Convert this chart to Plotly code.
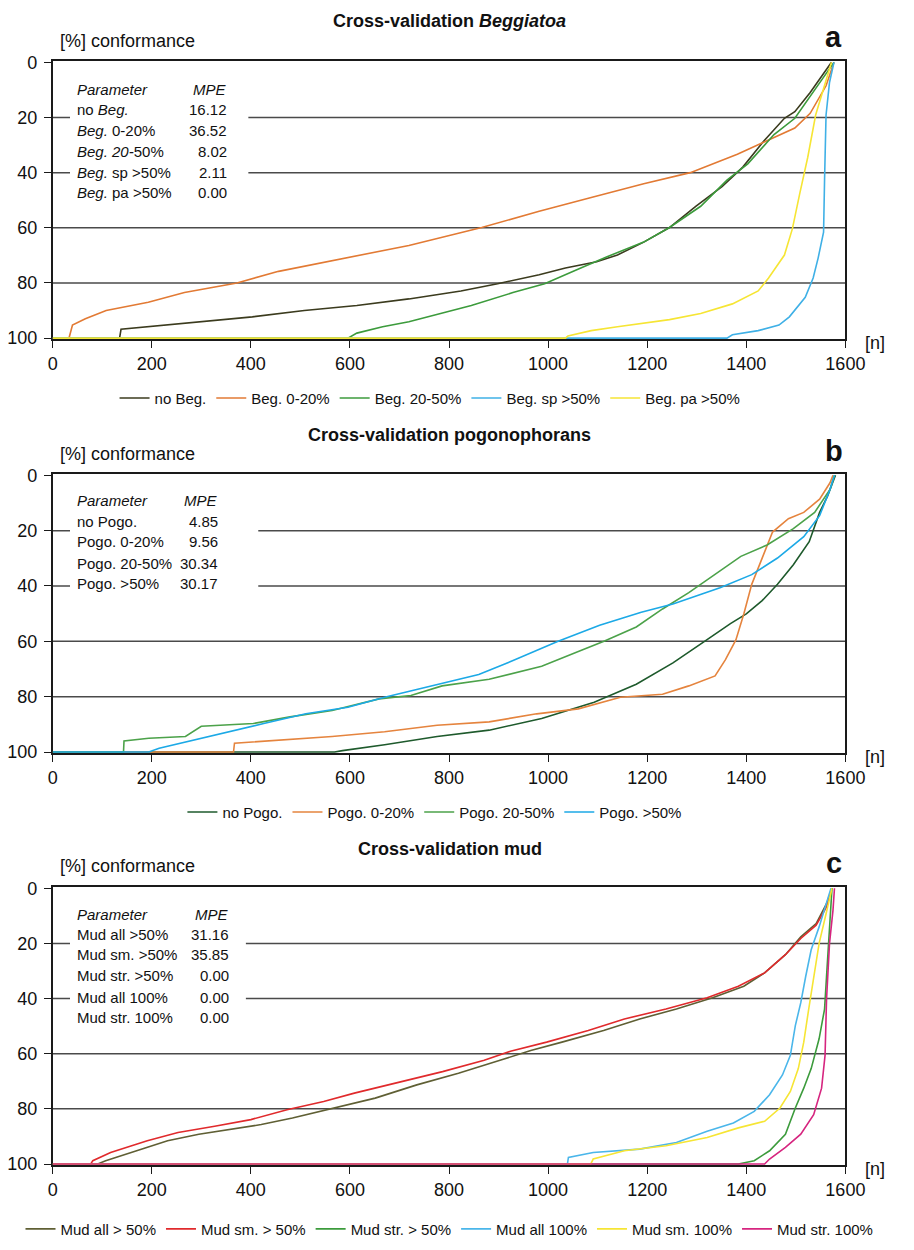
import plotly.graph_objects as go

# ---------------- Panel a: Beggiatoa ----------------
a_names = ["no Beg.", "Beg. 0-20%", "Beg. 20-50%", "Beg. sp >50%", "Beg. pa >50%"]
a_colors = ["#3b3b1e", "#e27a34", "#3c9b3c", "#3fb0e6", "#f6e534"]
a_noBeg_n = [0, 135, 138, 193, 298, 403, 508, 614, 719, 824, 898, 982, 1035, 1098, 1140, 1193, 1245, 1298, 1351, 1393, 1435, 1477, 1498, 1529, 1572]
a_noBeg_y = [100, 100, 96.8, 95.9, 94.1, 92.3, 90, 88.2, 85.8, 82.9, 80.3, 77, 74.6, 72.3, 69.9, 65.2, 59.9, 52.2, 45.1, 38, 28.6, 20.3, 17.9, 10.9, 0]
a_b020_n = [0, 33, 40, 66, 108, 193, 266, 372, 456, 540, 603, 719, 866, 982, 1087, 1193, 1287, 1382, 1435, 1498, 1529, 1561, 1577]
a_b020_y = [100, 100, 95.3, 93, 90, 87, 83.5, 80, 75.8, 72.8, 70.5, 66.4, 59.9, 54, 49, 44, 40, 33.3, 29, 23.8, 18.5, 8.5, 0]
a_b2050_n = [0, 596, 614, 666, 719, 782, 845, 929, 993, 1066, 1119, 1193, 1245, 1308, 1361, 1403, 1456, 1498, 1540, 1577]
a_b2050_y = [100, 100, 98.2, 95.9, 94.1, 91.1, 88.2, 83.5, 80.3, 74.6, 70.5, 65.2, 59.9, 52.2, 42.7, 36.8, 26.2, 20.3, 9.7, 0]
a_sp_n = [0, 1361, 1372, 1424, 1466, 1487, 1519, 1535, 1545, 1556, 1558, 1561, 1568, 1577]
a_sp_y = [100, 100, 98.8, 97.3, 95.3, 92.3, 85.2, 78.2, 71, 61.6, 42.7, 19.1, 7.3, 0]
a_pa_n = [0, 1035, 1040, 1087, 1140, 1245, 1308, 1372, 1424, 1445, 1477, 1493, 1508, 1524, 1540, 1556, 1572]
a_pa_y = [100, 100, 99.2, 97.3, 95.9, 93.3, 91.1, 87.6, 82.9, 78.2, 69.9, 60.4, 47.5, 34.5, 19.1, 9.7, 0]
a_table_params = ["no <i>Beg.</i>", "<i>Beg.</i> 0-20%", "<i>Beg. 20-</i>50%", "<i>Beg.</i> sp >50%", "<i>Beg.</i> pa >50%"]
a_table_mpe = ["16.12", "36.52", "8.02", "2.11", "0.00"]

# ---------------- Panel b: pogonophorans ----------------
b_names = ["no Pogo.", "Pogo. 0-20%", "Pogo. 20-50%", "Pogo. >50%"]
b_colors = ["#1e5a2c", "#e5843e", "#4ca24a", "#1ca9e6"]
b_no_n = [0, 569, 585, 670, 776, 881, 987, 1093, 1178, 1252, 1315, 1368, 1400, 1432, 1463, 1495, 1527, 1548, 1564, 1580]
b_no_y = [100, 100, 99.5, 97.4, 94.4, 92.1, 87.9, 82, 75.5, 67.8, 60.1, 53.6, 50.1, 45.3, 39.4, 32.3, 24, 13.4, 7.5, 0]
b_020_n = [0, 365, 367, 458, 564, 670, 776, 881, 977, 1061, 1146, 1231, 1284, 1337, 1358, 1379, 1395, 1411, 1432, 1453, 1485, 1516, 1548, 1569, 1575]
b_020_y = [100, 100, 96.8, 95.6, 94.4, 92.7, 90.3, 89.1, 86.2, 84.4, 80.2, 79.1, 76.1, 72.5, 66.6, 59.5, 50.1, 39.4, 29.9, 20.5, 15.7, 13.4, 8.6, 2.7, 0]
b_2050_n = [0, 143, 144, 194, 268, 300, 405, 479, 564, 659, 723, 786, 881, 987, 1061, 1114, 1178, 1231, 1284, 1337, 1389, 1442, 1495, 1538, 1569, 1578]
b_2050_y = [100, 100, 96, 95, 94.4, 90.7, 89.7, 87.3, 85, 80.8, 79.6, 76.1, 73.7, 69, 63.7, 59.9, 54.8, 48.3, 42.4, 35.9, 29.3, 25.2, 19.3, 13.4, 5.1, 0]
b_50_n = [0, 194, 215, 257, 331, 426, 511, 596, 670, 765, 860, 934, 1019, 1104, 1188, 1252, 1347, 1411, 1463, 1516, 1548, 1569, 1578]
b_50_y = [100, 100, 98.6, 96.8, 93.8, 89.7, 86.2, 83.8, 80.2, 76.1, 72, 66.6, 60.1, 54.2, 49.5, 46.5, 40.6, 35.9, 29.9, 22.2, 14.6, 5.1, 0]
b_table_params = ["no Pogo.", "Pogo. 0-20%", "Pogo. 20-50%", "Pogo. >50%"]
b_table_mpe = ["4.85", "9.56", "30.34", "30.17"]

# ---------------- Panel c: mud ----------------
c_names = ["Mud all > 50%", "Mud sm. > 50%", "Mud str. > 50%", "Mud all 100%", "Mud sm. 100%", "Mud str. 100%"]
c_colors = ["#5f5f34", "#e02a2c", "#3c9b3c", "#4ab6ea", "#f6e534", "#d6257f"]
c_all50_n = [0, 91, 107, 170, 232, 295, 358, 421, 484, 568, 651, 735, 819, 903, 965, 1028, 1112, 1185, 1259, 1332, 1395, 1437, 1479, 1510, 1541, 1562, 1573]
c_all50_y = [100, 100, 98.8, 95.2, 91.6, 89.2, 87.5, 85.7, 83.3, 79.7, 76.1, 71.3, 67.1, 62.4, 58.8, 55.8, 51.6, 47.4, 43.8, 39.7, 35.5, 30.7, 24.1, 17.6, 12.8, 5.6, 0]
c_sm50_n = [0, 77, 81, 117, 191, 253, 327, 400, 473, 547, 609, 693, 787, 871, 924, 997, 1081, 1154, 1238, 1321, 1384, 1437, 1479, 1510, 1541, 1562, 1573]
c_sm50_y = [100, 100, 98.8, 95.8, 91.6, 88.6, 86.3, 83.9, 80.3, 77.3, 74.3, 70.7, 66.5, 62.4, 59.1, 55.8, 51.6, 47.4, 43.8, 39.7, 35.5, 30.7, 24.1, 18.2, 13.4, 6.8, 0]
c_str50_n = [0, 1384, 1416, 1447, 1479, 1499, 1516, 1531, 1547, 1558, 1562, 1568, 1573]
c_str50_y = [100, 100, 98.8, 95.2, 89.2, 79.7, 72.5, 65.4, 54.6, 43.8, 31.9, 14, 0]
c_all100_n = [0, 1039, 1041, 1091, 1185, 1259, 1321, 1374, 1416, 1447, 1473, 1489, 1499, 1510, 1520, 1531, 1547, 1562, 1571]
c_all100_y = [100, 100, 97.6, 95.8, 94.6, 92.2, 88.1, 85.1, 80.9, 74.9, 67.7, 60.6, 49.8, 41.5, 31.9, 22.3, 14, 5.6, 0]
c_sm100_n = [0, 1086, 1091, 1154, 1238, 1321, 1384, 1437, 1468, 1489, 1505, 1516, 1526, 1537, 1547, 1558, 1573]
c_sm100_y = [100, 100, 98.2, 95.2, 93.4, 90.4, 86.9, 84.5, 79.7, 73.7, 65.4, 55.8, 43.8, 31.9, 20, 11.6, 0]
c_str100_n = [0, 1437, 1447, 1479, 1510, 1536, 1552, 1559, 1562, 1568, 1575, 1578]
c_str100_y = [100, 100, 98.2, 94, 89.2, 82.1, 72.5, 60.6, 40.3, 20, 8, 0]
c_table_params = ["Mud all >50%", "Mud sm. >50%", "Mud str. >50%", "Mud all 100%", "Mud str. 100%"]
c_table_mpe = ["31.16", "35.85", "0.00", "0.00", "0.00"]

x_ticks = [0, 200, 400, 600, 800, 1000, 1200, 1400, 1600]
y_ticks = [0, 20, 40, 60, 80, 100]
grid_vals = [20, 40, 60, 80]

W, H = 914, 1250
FONT = "Liberation Sans, Arial, sans-serif"
NARROW = "Liberation Sans Narrow, Liberation Sans, Arial, sans-serif"

panels = [
    dict(key="", top=53, bot=335, names=a_names, colors=a_colors,
         series=[(a_noBeg_n, a_noBeg_y), (a_b020_n, a_b020_y), (a_b2050_n, a_b2050_y), (a_sp_n, a_sp_y), (a_pa_n, a_pa_y)],
         title="Cross-validation <i>Beggiatoa</i>", title_y=12, letter="a", letter_y=28,
         params=a_table_params, mpe=a_table_mpe, rows=[9.9, 17.0, 24.8, 32.3, 40.1, 47.2],
         mpe_right=355, box=(35, 395, 4, 51), legend_y=395, legend_x=437),
    dict(key="2", top=472, bot=755, names=b_names, colors=b_colors,
         series=[(b_no_n, b_no_y), (b_020_n, b_020_y), (b_2050_n, b_2050_y), (b_50_n, b_50_y)],
         title="Cross-validation pogonophorans", title_y=432, letter="b", letter_y=448,
         params=b_table_params, mpe=b_table_mpe, rows=[9.1, 16.6, 24.0, 31.7, 39.1],
         mpe_right=338, box=(35, 415, 4, 44), legend_y=815, legend_x=442),
    dict(key="3", top=891, bot=1173, names=c_names, colors=c_colors,
         series=[(c_all50_n, c_all50_y), (c_sm50_n, c_sm50_y), (c_str50_n, c_str50_y), (c_all100_n, c_all100_y), (c_sm100_n, c_sm100_y), (c_str100_n, c_str100_y)],
         title="Cross-validation mud", title_y=852, letter="c", letter_y=866,
         params=c_table_params, mpe=c_table_mpe, rows=[9.5, 16.7, 24.1, 31.6, 39.6, 47.0],
         mpe_right=360, box=(35, 390, 4, 51), legend_y=1238, legend_x=457),
]

fig = go.Figure()
shapes = []
annotations = []
x0p, x1p = 49, 864

for p in panels:
    k = p["key"]
    xa = "x" + k
    ya = "y" + k
    leg = "legend" + k
    for (nn, yy), name, col in zip(p["series"], p["names"], p["colors"]):
        fig.add_trace(go.Scatter(x=nn, y=yy, mode="lines", name=name,
                                 line=dict(color=col, width=1.6),
                                 xaxis=xa, yaxis=ya, legend=leg, hoverinfo="skip"))
    dom_y = [1 - p["bot"] / H, 1 - p["top"] / H]
    axkw = dict(showline=True, linecolor="#1a1a1a", linewidth=1.6, mirror=True,
                ticks="outside", ticklen=7, tickwidth=1.4, tickcolor="#1a1a1a",
                showgrid=False, zeroline=False, layer="below traces",
                tickfont=dict(family=FONT, size=18, color="#111"))
    fig.update_layout(**{
        ("xaxis" + k): dict(domain=[x0p / W, x1p / W], range=[0, 1600], tickvals=x_ticks,
                            anchor=ya, **axkw),
        ("yaxis" + k): dict(domain=dom_y, range=[100.4, -0.4], tickvals=y_ticks,
                            anchor=xa, ticklabelstandoff=3, **axkw),
    })
    for g in grid_vals:
        shapes.append(dict(type="line", xref=xa, yref=ya, x0=0, x1=1600, y0=g, y1=g,
                           line=dict(color="#4a4a4a", width=1.5), layer="below"))
    bx0, bx1, by0, by1 = p["box"]
    shapes.append(dict(type="rect", xref=xa, yref=ya, x0=bx0, x1=bx1, y0=by0, y1=by1,
                       fillcolor="white", line=dict(width=0), layer="below"))
    tfont = dict(family=FONT, size=15, color="#111")
    annotations.append(dict(xref=xa, yref=ya, x=46, y=p["rows"][0], text="<i>Parameter</i>",
                            xanchor="left", yanchor="middle", showarrow=False, font=tfont))
    annotations.append(dict(xref=xa, yref=ya, x=p["mpe_right"], y=p["rows"][0], text="<i>MPE</i>",
                            xanchor="right", yanchor="middle", showarrow=False, font=tfont))
    for r, t, v in zip(p["rows"][1:], p["params"], p["mpe"]):
        annotations.append(dict(xref=xa, yref=ya, x=46, y=r, text=t, xanchor="left",
                                yanchor="middle", showarrow=False, font=tfont))
        annotations.append(dict(xref=xa, yref=ya, x=p["mpe_right"], y=r, text=v, xanchor="right",
                                yanchor="middle", showarrow=False, font=tfont))
    annotations.append(dict(xref="paper", yref="paper", x=457 / W, y=1 - p["title_y"] / H,
                            text="<b>" + p["title"] + "</b>", xanchor="center", yanchor="middle",
                            showarrow=False, font=dict(family=FONT, size=18, color="#111")))
    annotations.append(dict(xref="paper", yref="paper", x=852 / W, y=1 - p["letter_y"] / H,
                            text="<b>" + p["letter"] + "</b>", xanchor="center", yanchor="middle",
                            showarrow=False, font=dict(family=FONT, size=29, color="#111")))
    annotations.append(dict(xref="paper", yref="paper", x=55 / W, y=1 - (p["top"] - 21) / H,
                            text="[%] conformance", xanchor="left", yanchor="middle",
                            showarrow=False, font=dict(family=FONT, size=18, color="#111")))
    annotations.append(dict(xref="paper", yref="paper", x=882 / W, y=1 - (p["bot"] + 4) / H,
                            text="[n]", xanchor="left", yanchor="middle",
                            showarrow=False, font=dict(family=FONT, size=18, color="#111")))
    fig.update_layout(**{
        leg: dict(orientation="h", x=p["legend_x"] / W, xanchor="center", y=1 - p["legend_y"] / H,
                  yanchor="middle", font=dict(family=NARROW, size=15, color="#111"),
                  bgcolor="rgba(0,0,0,0)", itemwidth=30, tracegroupgap=0)
    })

fig.update_layout(width=W, height=H, margin=dict(l=0, r=0, t=0, b=0),
                  paper_bgcolor="white", plot_bgcolor="white",
                  shapes=shapes, annotations=annotations, showlegend=True)

fig.write_html("out.html")
